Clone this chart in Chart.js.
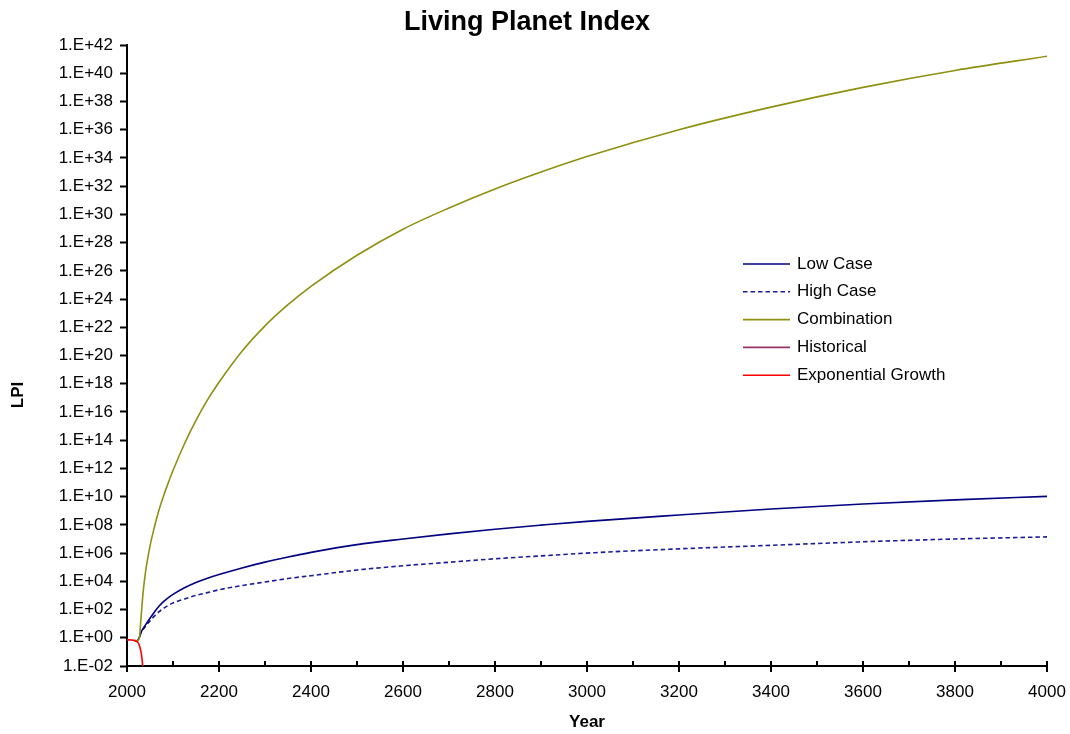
<!DOCTYPE html>
<html>
<head>
<meta charset="utf-8">
<title>Living Planet Index</title>
<script src="https://cdn.jsdelivr.net/npm/chart.js@4/dist/chart.umd.min.js"></script>
<style>
  html, body { margin: 0; padding: 0; background: #ffffff; }
  #wrap { width: 1070px; height: 734px; position: relative; }
</style>
</head>
<body>
<div id="wrap"><canvas id="lpi" width="1070" height="734"></canvas></div>
<script>
// Projection years shared by the three scenario curves
const years = [2017, 2022, 2027, 2030, 2035, 2040, 2050, 2060, 2070, 2080, 2090, 2100,
  2125, 2150, 2175, 2200, 2250, 2300, 2350, 2400, 2500, 2600, 2700, 2800, 2900, 3000,
  3200, 3400, 3600, 3800, 4000];

const lowCase = [0.63, 0.6, 1.12, 2.24, 4.47, 7.94, 24.0, 70.8, 178, 380, 708, 1202,
  3548, 8318, 1.66e4, 3.02e4, 8.91e4, 2.29e5, 5.25e5, 1.12e6, 3.98e6, 1.0e7, 2.29e7,
  4.9e7, 9.55e7, 1.78e8, 5.01e8, 1.32e9, 3.02e9, 5.89e9, 1.05e10];

const highCase = [0.63, 0.6, 1.12, 2.14, 3.98, 6.31, 15.8, 35.5, 70.8, 126, 200, 295,
  562, 1000, 1585, 2512, 5012, 8913, 1.58e4, 2.51e4, 6.31e4, 1.26e5, 2.24e5, 3.98e5,
  6.31e5, 1.0e6, 2.0e6, 3.55e6, 6.31e6, 1.0e7, 1.41e7];

const combination = [0.63, 0.6, 1.0, 15.8, 1585, 3.98e4, 3.16e6, 7.94e7, 1.26e9,
  1.26e10, 1.0e11, 7.08e11, 5.62e13, 2.51e15, 7.08e16, 1.26e18, 2.0e20, 1.26e22,
  3.98e23, 7.94e24, 1.26e27, 8.91e28, 2.82e30, 6.31e31, 1.0e33, 1.26e34, 1.0e36,
  3.98e37, 1.0e39, 1.58e40, 1.58e41];

const historicalYears = [2000, 2002];
const historical = [0.72, 0.71];

const expYears = [2000, 2005, 2010, 2015, 2020, 2024, 2027, 2029, 2031, 2033, 2034, 2035];
const expGrowth = [0.72, 0.71, 0.69, 0.66, 0.58, 0.45, 0.28, 0.16, 0.08, 0.025, 0.01, 0.003];

const xTickValues = [2000, 2200, 2400, 2600, 2800, 3000, 3200, 3400, 3600, 3800, 4000];
const xMinorTickValues = [2100, 2300, 2500, 2700, 2900, 3100, 3300, 3500, 3700, 3900];
const yTickValues = [1e-2, 1e0, 1e2, 1e4, 1e6, 1e8, 1e10, 1e12, 1e14, 1e16, 1e18, 1e20,
  1e22, 1e24, 1e26, 1e28, 1e30, 1e32, 1e34, 1e36, 1e38, 1e40, 1e42];
const yTickLabels = ['1.E-02', '1.E+00', '1.E+02', '1.E+04', '1.E+06', '1.E+08', '1.E+10',
  '1.E+12', '1.E+14', '1.E+16', '1.E+18', '1.E+20', '1.E+22', '1.E+24', '1.E+26',
  '1.E+28', '1.E+30', '1.E+32', '1.E+34', '1.E+36', '1.E+38', '1.E+40', '1.E+42'];

const FONT = '"Liberation Sans", Arial, sans-serif';

const pairs = (xs, ys) => xs.map((x, i) => ({ x: x, y: ys[i] }));

// Year-axis tick marks: major ticks cross the axis, minor ticks point inward
const yearTicks = {
  id: 'yearTicks',
  afterDraw(chart) {
    const ctx = chart.ctx;
    const sx = chart.scales.x;
    const base = chart.chartArea.bottom;
    ctx.save();
    ctx.strokeStyle = '#000';
    ctx.lineWidth = 2;
    ctx.beginPath();
    xTickValues.forEach(v => {
      const px = Math.round(sx.getPixelForValue(v));
      ctx.moveTo(px, base - 5);
      ctx.lineTo(px, base + 6);
    });
    xMinorTickValues.forEach(v => {
      const px = Math.round(sx.getPixelForValue(v));
      ctx.moveTo(px, base - 5);
      ctx.lineTo(px, base);
    });
    ctx.stroke();
    ctx.restore();
  }
};

// Legend drawn inside the plot area, to the right of the curves
const insideLegend = {
  id: 'insideLegend',
  afterDraw(chart) {
    const ctx = chart.ctx;
    const a = chart.chartArea;
    const x0 = a.left + 616, x1 = x0 + 47, tx = x1 + 7;
    let y = a.top + 219;
    chart.data.datasets.forEach(ds => {
      ctx.save();
      ctx.strokeStyle = ds.borderColor;
      ctx.lineWidth = ds.borderWidth;
      ctx.setLineDash(ds.borderDash || []);
      ctx.beginPath();
      ctx.moveTo(x0, y);
      ctx.lineTo(x1, y);
      ctx.stroke();
      ctx.restore();
      ctx.save();
      ctx.fillStyle = '#000';
      ctx.font = '17px ' + FONT;
      ctx.textBaseline = 'middle';
      ctx.textAlign = 'left';
      ctx.fillText(ds.label, tx, y);
      ctx.restore();
      y += 27.8;
    });
  }
};

// Chart title and the vertical "LPI" axis caption
const captions = {
  id: 'captions',
  afterDraw(chart) {
    const ctx = chart.ctx;
    ctx.save();
    ctx.fillStyle = '#000';
    ctx.font = 'bold 27px ' + FONT;
    ctx.textAlign = 'center';
    ctx.textBaseline = 'middle';
    ctx.fillText('Living Planet Index', 527, 23);
    ctx.translate(18, 395);
    ctx.rotate(-Math.PI / 2);
    ctx.font = 'bold 17px ' + FONT;
    ctx.fillText('LPI', 0, 0);
    ctx.restore();
  }
};

new Chart(document.getElementById('lpi'), {
  type: 'line',
  data: {
    datasets: [
      { label: 'Low Case', data: pairs(years, lowCase), borderColor: '#000080',
        borderWidth: 1.6, pointRadius: 0, cubicInterpolationMode: 'monotone', order: 3 },
      { label: 'High Case', data: pairs(years, highCase), borderColor: '#1c1c9a',
        borderWidth: 1.6, borderDash: [4.5, 3], pointRadius: 0, cubicInterpolationMode: 'monotone', order: 4 },
      { label: 'Combination', data: pairs(years, combination), borderColor: '#8f8f10',
        borderWidth: 1.6, pointRadius: 0, cubicInterpolationMode: 'monotone', order: 2 },
      { label: 'Historical', data: pairs(historicalYears, historical), borderColor: '#993366',
        borderWidth: 1.6, pointRadius: 0, order: 1 },
      { label: 'Exponential Growth', data: pairs(expYears, expGrowth), borderColor: '#ff0000',
        borderWidth: 1.6, pointRadius: 0, cubicInterpolationMode: 'monotone', order: 0 }
    ]
  },
  options: {
    responsive: false,
    animation: false,
    events: [],
    layout: { padding: { left: 0, right: 23, top: 45, bottom: 0 } },
    plugins: { legend: { display: false }, title: { display: false }, tooltip: { enabled: false } },
    scales: {
      x: {
        type: 'linear',
        min: 2000,
        max: 4000,
        afterBuildTicks: s => { s.ticks = xTickValues.map(v => ({ value: v })); },
        afterFit: s => { s.height = 68; s.paddingLeft = 0; s.paddingRight = 0; },
        ticks: {
          color: '#000',
          font: { family: FONT, size: 17 },
          padding: 10,
          maxRotation: 0,
          autoSkip: false,
          callback: v => String(v)
        },
        grid: { drawOnChartArea: false, tickColor: 'rgba(0,0,0,0)', tickLength: 6 },
        border: { color: '#000', width: 2 },
        title: {
          display: true,
          text: 'Year',
          color: '#000',
          font: { family: FONT, size: 17, weight: 'bold' },
          padding: { top: 0, bottom: 1 }
        }
      },
      y: {
        type: 'logarithmic',
        min: 1e-2,
        max: 1e42,
        afterBuildTicks: s => { s.ticks = yTickValues.map(v => ({ value: v })); },
        afterFit: s => { s.width = 127; s.paddingTop = 0; s.paddingBottom = 0; },
        ticks: {
          color: '#000',
          font: { family: FONT, size: 17 },
          padding: 7,
          autoSkip: false,
          callback: (v, i) => yTickLabels[i]
        },
        grid: { drawOnChartArea: false, color: '#000', tickLength: 7, tickWidth: 2 },
        border: { color: '#000', width: 2 }
      }
    }
  },
  plugins: [yearTicks, insideLegend, captions]
});
</script>
</body>
</html>
